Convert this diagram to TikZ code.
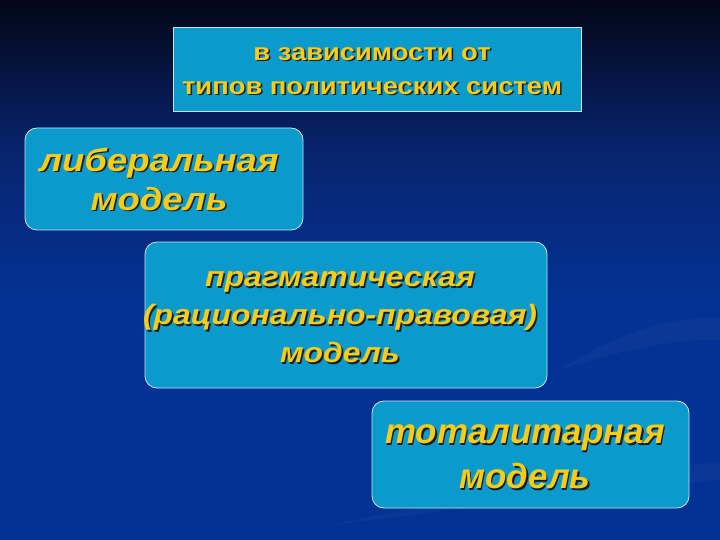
\documentclass[tikz,border=0pt]{standalone}
\usepackage{fontspec}
\setmainfont{Liberation Sans}
\newfontfamily\widesans[FakeStretch=1.14]{Liberation Sans}
\definecolor{boxblue}{RGB}{10,154,204}
\definecolor{textgold}{RGB}{250,204,24}
\definecolor{textshade}{RGB}{20,30,40}
\definecolor{bgdark}{RGB}{3,6,22}
\definecolor{bgmid}{RGB}{8,36,110}
\definecolor{bgblue}{RGB}{4,50,148}
\newcommand{\shadowed}[1]{\rlap{\hspace{1.6pt}\raisebox{-1.6pt}[0pt][0pt]{\textcolor{textshade}{#1}}}#1}
\tikzset{
  model/.style={draw=white!75!boxblue, line width=0.8pt, fill=boxblue, rounded corners=12pt},
  caption/.style={text=textgold, align=center, inner sep=0pt},
}

\begin{document}
\begin{tikzpicture}[x=1pt,y=-1pt]
  %%%%% BACKGROUND %%%%%
  \shade[top color=bgdark, bottom color=bgmid] (0, 0) rectangle (720, 150);
  \shade[top color=bgmid, bottom color=bgblue] (0, 150) rectangle (720, 300);
  \fill[bgblue] (0, 300) rectangle (720, 540);
  \fill[white, opacity=0.03] (560, 370) .. controls (620, 330) and (680, 315) .. (720, 318)
    -- (720, 340) .. controls (680, 338) and (620, 350) .. (560, 370);
  \fill[white, opacity=0.03] (330, 525) .. controls (450, 500) and (620, 470) .. (720, 462)
    -- (720, 480) .. controls (620, 490) and (450, 510) .. (330, 525);
  \useasboundingbox (0, 0) rectangle (720, 540);

  %%%%% BOXES %%%%%
  \draw[model, rounded corners=0pt] (173, 27) rectangle (581, 111);
  \draw[model] (25, 128) rectangle (303, 230);
  \draw[model] (145, 242) rectangle (547, 388);
  \draw[model] (372, 401) rectangle (689, 508);

  %%%%% TEXTS %%%%%
  \node[caption, font=\widesans\fontsize{24}{34}\selectfont\bfseries] (top) at (372, 71)
    {\shadowed{в зависимости от}\\\shadowed{типов политических систем}};

  \node[caption, font=\widesans\fontsize{32}{39}\selectfont\bfseries\itshape] (lib) at (159, 179)
    {\shadowed{либеральная}\\\shadowed{модель}};

  \node[caption, font=\widesans\fontsize{28}{38}\selectfont\bfseries\itshape] (prag) at (340, 317)
    {\shadowed{прагматическая}\\\shadowed{(рационально-правовая)}\\\shadowed{модель}};

  \node[caption, font=\fontsize{35}{45}\selectfont\bfseries\itshape] (tot) at (525, 457)
    {\shadowed{тоталитарная}\\\shadowed{модель}};
\end{tikzpicture}
\end{document}
